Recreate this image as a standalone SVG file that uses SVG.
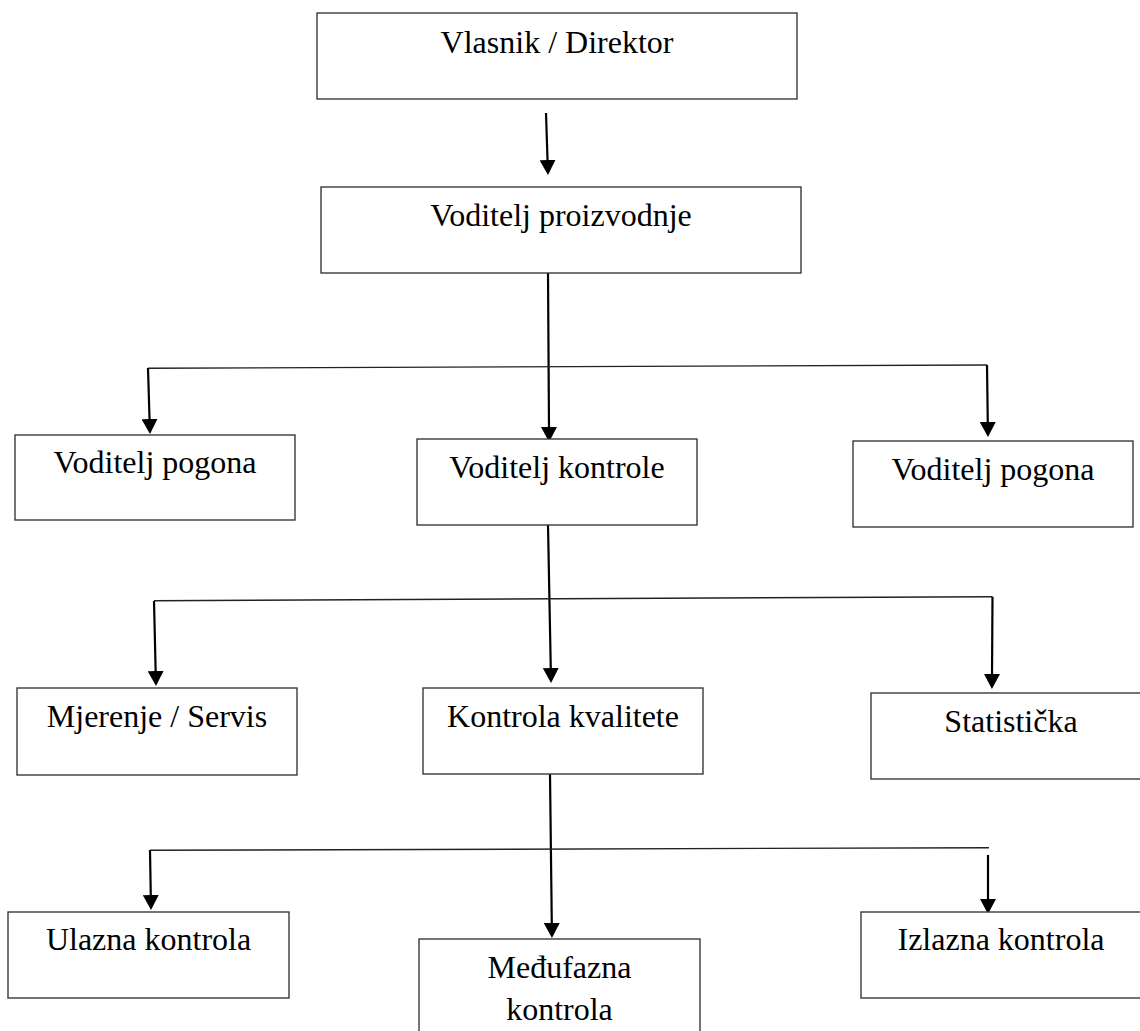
<svg xmlns="http://www.w3.org/2000/svg" width="1140" height="1031" viewBox="0 0 1140 1031">
<style>
  .box { fill: #ffffff; stroke: #3a3a3a; stroke-width: 1.4; }
  .lbl { font-family: "Liberation Serif", "DejaVu Serif", "Times New Roman", serif; font-size: 32px; fill: #000; text-anchor: middle; }
  .bar { stroke: #222; stroke-width: 1.4; fill: none; }
  .arr { stroke: #000; stroke-width: 2.2; fill: none; marker-end: url(#ah); }
</style>
<defs>
  <marker id="ah" markerUnits="userSpaceOnUse" markerWidth="15" markerHeight="16" viewBox="0 0 15 16" refX="2" refY="8" orient="auto">
    <path d="M0,0 L15,8 L0,16 Z" fill="#000"/>
  </marker>
</defs>
<rect width="1140" height="1031" fill="#ffffff"/>

<g id="connectors">
  <line class="arr" x1="546" y1="113" x2="547.6" y2="162"/>
  <line class="arr" x1="548" y1="273" x2="549" y2="429"/>
  <line class="bar" x1="148" y1="368.3" x2="987" y2="365"/>
  <line class="arr" x1="148" y1="368" x2="149.6" y2="421"/>
  <line class="arr" x1="987" y1="365" x2="987.8" y2="424"/>
  <line class="arr" x1="548" y1="525" x2="550.8" y2="670"/>
  <line class="bar" x1="154" y1="600.7" x2="992.7" y2="596.7"/>
  <line class="arr" x1="154" y1="601" x2="155.7" y2="673"/>
  <line class="arr" x1="992.5" y1="597" x2="992" y2="676"/>
  <line class="arr" x1="550" y1="774" x2="551.8" y2="925"/>
  <line class="bar" x1="150" y1="850.3" x2="989" y2="847.7"/>
  <line class="arr" x1="150" y1="850" x2="150.8" y2="897"/>
  <line class="arr" x1="988" y1="855" x2="988" y2="901"/>
</g>

<g id="n-vlasnik">
  <rect class="box" x="317" y="13" width="480" height="86"/>
  <text class="lbl" x="557" y="53">Vlasnik / Direktor</text>
</g>
<g id="n-voditelj-proizvodnje">
  <rect class="box" x="321" y="187" width="480" height="86"/>
  <text class="lbl" x="561" y="226">Voditelj proizvodnje</text>
</g>
<g id="n-voditelj-pogona-1">
  <rect class="box" x="15" y="435" width="280" height="85"/>
  <text class="lbl" x="155" y="473">Voditelj pogona</text>
</g>
<g id="n-voditelj-kontrole">
  <rect class="box" x="417" y="439" width="280" height="86"/>
  <text class="lbl" x="557" y="478">Voditelj kontrole</text>
</g>
<g id="n-voditelj-pogona-2">
  <rect class="box" x="853" y="441" width="280" height="86"/>
  <text class="lbl" x="993" y="480">Voditelj pogona</text>
</g>
<g id="n-mjerenje">
  <rect class="box" x="17" y="688" width="280" height="87"/>
  <text class="lbl" x="157" y="727">Mjerenje / Servis</text>
</g>
<g id="n-kontrola-kvalitete">
  <rect class="box" x="423" y="688" width="280" height="86"/>
  <text class="lbl" x="563" y="727">Kontrola kvalitete</text>
</g>
<g id="n-statisticka">
  <rect class="box" x="871" y="693" width="280" height="86"/>
  <text class="lbl" x="1011" y="732">Statistička</text>
</g>
<g id="n-ulazna">
  <rect class="box" x="8" y="912" width="281" height="86"/>
  <text class="lbl" x="148.5" y="950">Ulazna kontrola</text>
</g>
<g id="n-medufazna">
  <rect class="box" x="419" y="939" width="281" height="120"/>
  <text class="lbl" x="559.5" y="978">Međufazna</text>
  <text class="lbl" x="559.5" y="1020">kontrola</text>
</g>
<g id="n-izlazna">
  <rect class="box" x="861" y="912" width="280" height="86"/>
  <text class="lbl" x="1001" y="950">Izlazna kontrola</text>
</g>
</svg>
